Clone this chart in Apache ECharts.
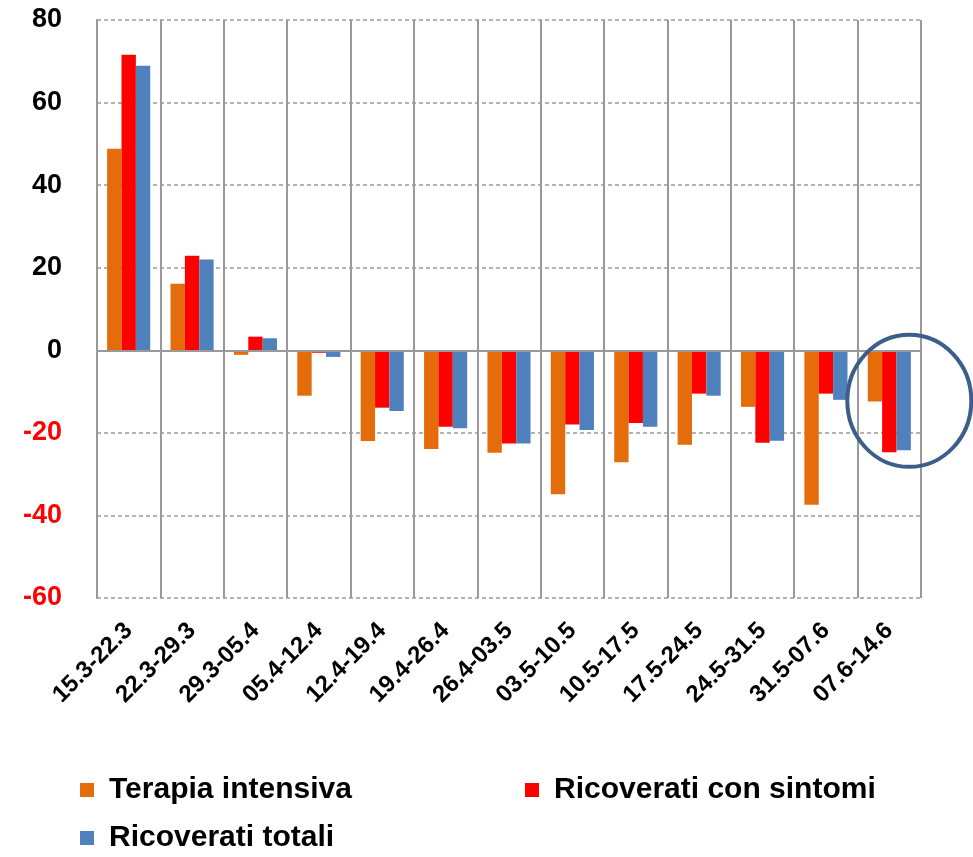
<!DOCTYPE html>
<html>
<head>
<meta charset="utf-8">
<script src="https://cdn.jsdelivr.net/npm/echarts@6/dist/echarts.min.js"></script>
<style>html,body{margin:0;padding:0;background:#fff;}#c{width:973px;height:857px;}</style>
</head>
<body>
<div id="c"></div>
<script>
var categories = ['15.3-22.3','22.3-29.3','29.3-05.4','05.4-12.4','12.4-19.4','19.4-26.4','26.4-03.5','03.5-10.5','10.5-17.5','17.5-24.5','24.5-31.5','31.5-07.6','07.6-14.6'];
var terapiaIntensiva = [48.8, 16.1, -1.1, -11.0, -22.0, -23.9, -24.8, -34.9, -27.1, -22.9, -13.7, -37.4, -12.4];
var ricoveratiSintomi = [71.6, 22.9, 3.3, -0.6, -13.9, -18.5, -22.6, -18.0, -17.6, -10.5, -22.4, -10.5, -24.7];
var ricoveratiTotali = [68.9, 22.0, 2.9, -1.6, -14.7, -18.9, -22.6, -19.3, -18.5, -11.0, -21.9, -12.0, -24.2];
var seriesNames = ['Terapia intensiva', 'Ricoverati con sintomi', 'Ricoverati totali'];
var colors = ['#E46C0A', '#FF0000', '#4F81BD'];

var chart = echarts.init(document.getElementById('c'));
var FONT = '"Liberation Sans", Arial, sans-serif';
var legendText = {fontFamily: FONT, fontWeight: 'bold', fontSize: 30, color: '#000', padding: [0, 0, 0, 10]};
var option = {
  animation: false,
  backgroundColor: '#fff',
  grid: {left: 97, right: 52, top: 20, bottom: 259, containLabel: false},
  legend: [
    {data: [seriesNames[0]], left: 80, top: 775, itemWidth: 14, itemHeight: 14, itemGap: 16, textStyle: legendText, icon: 'rect', padding: 0},
    {data: [seriesNames[1]], left: 525, top: 775, itemWidth: 14, itemHeight: 14, itemGap: 16, textStyle: legendText, icon: 'rect', padding: 0},
    {data: [seriesNames[2]], left: 80, top: 823, itemWidth: 14, itemHeight: 14, itemGap: 16, textStyle: legendText, icon: 'rect', padding: 0}
  ],
  xAxis: {
    type: 'category',
    data: categories,
    position: 'bottom',
    boundaryGap: true,
    axisLine: {show: false, onZero: false},
    axisTick: {show: false},
    splitLine: {show: true, lineStyle: {color: '#999', width: 2, type: 'solid'}},
    axisLabel: {rotate: 45, margin: 29, fontFamily: FONT, fontWeight: 'bold', fontSize: 24, color: '#000', interval: 0}
  },
  yAxis: {
    type: 'value',
    min: -60, max: 80, interval: 20,
    axisLine: {show: true, lineStyle: {color: '#999', width: 2}},
    axisTick: {show: false},
    splitLine: {show: true, lineStyle: {color: '#999', width: 1.5, type: [4, 3]}},
    axisLabel: {
      margin: 35,
      formatter: function (v) { return v < 0 ? '{n|' + v + '}' : '{p|' + v + '}'; },
      rich: {
        p: {fontFamily: FONT, fontWeight: 'bold', fontSize: 27, color: '#000'},
        n: {fontFamily: FONT, fontWeight: 'bold', fontSize: 27, color: '#FF0000'}
      }
    }
  },
  series: [
    {name: seriesNames[0], type: 'bar', data: terapiaIntensiva, itemStyle: {color: colors[0]}, barGap: '0%', barCategoryGap: '32%',
     markLine: {silent: true, symbol: 'none', label: {show: false}, lineStyle: {color: '#999', width: 2, type: 'solid'}, data: [{yAxis: 0}]}},
    {name: seriesNames[1], type: 'bar', data: ricoveratiSintomi, itemStyle: {color: colors[1]}, barGap: '0%', barCategoryGap: '32%'},
    {name: seriesNames[2], type: 'bar', data: ricoveratiTotali, itemStyle: {color: colors[2]}, barGap: '0%', barCategoryGap: '32%'}
  ]
};
chart.setOption(option);

// Highlight ellipse around the last category
var lastIdx = categories.length - 1;
var pt = chart.convertToPixel({xAxisIndex: 0, yAxisIndex: 0}, [lastIdx, -12]);
chart.setOption({
  graphic: [{
    type: 'ellipse',
    shape: {cx: pt[0] + 20, cy: pt[1] + 1, rx: 62, ry: 66},
    style: {fill: 'none', stroke: '#3B5E8A', lineWidth: 4},
    z: 100
  }]
});
</script>
</body>
</html>
